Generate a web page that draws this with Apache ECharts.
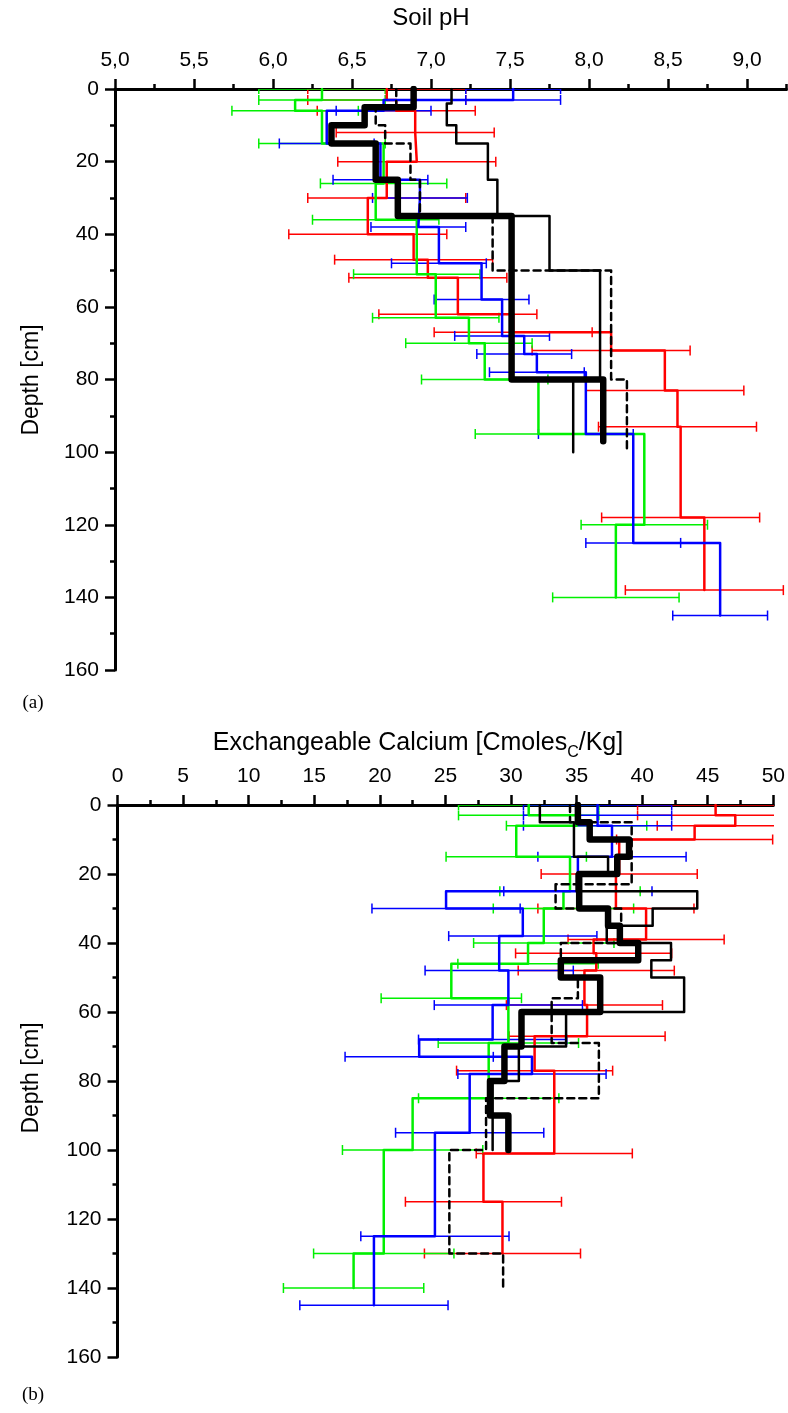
<!DOCTYPE html>
<html><head><meta charset="utf-8">
<script src="https://cdn.jsdelivr.net/npm/echarts@6/dist/echarts.min.js"></script>
<style>html,body{margin:0;padding:0;background:#fff}#c{width:788px;height:1413px}</style>
</head><body><div id="c"></div>
<script>
// ===== (a) Soil pH profiles: layer boundaries [cm] and layer values =====
const phThickDepth = [0,5,10,15,25,35,80,97];
const phThick      = [6.89,6.58,6.37,6.65,6.79,7.51,8.09];
const phThinDepth  = [0,4,10,15,25,35,50,80,100];
const phThin       = [7.13,7.10,7.16,7.36,7.42,7.75,8.07,7.90];
const phDashDepth  = [0,5,10,15,25,35,50,80,100];
const phDash       = [6.78,6.65,6.71,6.87,6.93,7.39,8.14,8.24];
const phRedDepth   = [0,3,6,12,20,30,40,47,52,62,67,72,83,93,118,138];
const phRed        = [6.72,6.78,6.90,6.91,6.72,6.60,6.89,6.98,7.17,7.52,8.14,8.48,8.56,8.58,8.73];
const phGreenDepth = [0,3,6,15,26,36,51,63,70,80,95,120,140];
const phGreen      = [6.31,6.14,6.31,6.70,6.65,6.91,7.03,7.24,7.34,7.68,8.35,8.17];
const phBlueDepth  = [0,3,6,15,25,30,38,48,58,68,73,78,95,125,145];
const phBlue       = [7.52,6.70,6.34,6.68,6.93,6.92,7.05,7.32,7.45,7.59,7.67,7.98,8.28,8.83];
const phRedErr = 0.5, phGreenErr = 0.4, phBlueErr = 0.3;
const phTicks = [5,5.5,6,6.5,7,7.5,8,8.5,9];

// ===== (b) Exchangeable calcium profiles =====
const caThickDepth = [0,5,10,15,20,30,35,40,45,50,60,70,80,90,100];
const caThick      = [35.1,36.0,39.0,38.1,35.2,37.4,38.3,39.7,33.8,36.8,30.8,29.5,28.4,29.8];
const caThinDepth  = [0,5,15,20,25,30,35,40,45,50,60,70,80,100];
const caThin       = [32.2,34.8,37.4,35.0,44.2,40.8,37.3,42.2,40.7,43.2,34.2,30.6,28.6];
const caDashDepth  = [0,5,23,30,40,50,56,69,85,100,130,140];
const caDash       = [34.5,39.2,33.4,38.4,33.8,35.1,33.1,36.7,28.1,25.3,29.4];
const caRedDepth   = [0,3,6,10,20,30,39,43,48,58,67,77,101,115,130];
const caRed        = [45.6,47.1,44.0,38.25,38.0,40.3,36.3,36.5,35.6,35.8,31.8,33.3,27.9,29.35];
const caGreenDepth = [0,3,6,15,25,30,40,46,56,69,85,100,130,140];
const caGreen      = [31.35,35.0,30.4,34.5,34.0,32.5,31.3,25.45,29.8,28.3,22.5,20.3,18.0];
const caBlueDepth  = [0,3,6,15,25,30,38,48,58,68,73,78,95,125,145];
const caBlue       = [36.6,36.6,37.7,35.1,25.05,30.9,29.1,29.8,28.6,23.0,31.6,26.85,24.2,19.55];
const caRedErr = 5.95, caGreenErr = 5.35, caBlueErr = 5.65;

const FONT = '"Liberation Sans", Arial, Helvetica, sans-serif';
const RED = '#ff0000', GREEN = '#00f000', BLUE = '#0000ff', BLACK = '#000000';

function stepPoints(depths, vals) {
  const p = [];
  for (let i = 0; i < vals.length; i++) { p.push([vals[i], depths[i]]); p.push([vals[i], depths[i + 1]]); }
  return p;
}
function errRows(depths, vals, half) {
  const r = [];
  for (let k = 0; k < depths.length; k++) { const v = vals[Math.max(0, k - 1)]; r.push([v - half, v + half, depths[k]]); }
  return r;
}
function mkErr(color) {
  return function (params, api) {
    const a = api.coord([api.value(0), api.value(2)]);
    const b = api.coord([api.value(1), api.value(2)]);
    const c = 5, st = { stroke: color, lineWidth: 1.5 };
    return { type: 'group', children: [
      { type: 'line', shape: { x1: a[0], y1: a[1], x2: b[0], y2: b[1] }, style: st },
      { type: 'line', shape: { x1: a[0], y1: a[1] - c, x2: a[0], y2: a[1] + c }, style: st },
      { type: 'line', shape: { x1: b[0], y1: b[1] - c, x2: b[0], y2: b[1] + c }, style: st }
    ] };
  };
}
function line(xi, yi, depths, vals, color, width, dashed) {
  return { type: 'line', xAxisIndex: xi, yAxisIndex: yi, data: stepPoints(depths, vals),
    symbol: 'none', showSymbol: false, silent: true, animation: false, clip: true,
    lineStyle: { color: color, width: width, type: dashed ? [7, 5] : 'solid', cap: 'round', join: 'round' } };
}
function err(xi, yi, depths, vals, half, color) {
  return { type: 'custom', xAxisIndex: xi, yAxisIndex: yi, data: errRows(depths, vals, half),
    encode: { x: [0, 1], y: 2 }, renderItem: mkErr(color), clip: true, silent: true, animation: false };
}

const axisLineStyle = { show: true, lineStyle: { color: BLACK, width: 3 } };
const labelStyle = { color: BLACK, fontSize: 21, fontFamily: FONT };
const centered = { textAlign: 'center', textVerticalAlign: 'middle', align: 'center', verticalAlign: 'middle', fill: BLACK };

const chart = echarts.init(document.getElementById('c'), null, { renderer: 'canvas' });
chart.setOption({
  animation: false,
  backgroundColor: '#fff',
  grid: [
    { left: 115, top: 89, width: 671.5, height: 581 },
    { left: 117.5, top: 805, width: 657, height: 552 },
    { left: 115, top: 89, width: 671.5, height: 581 }
  ],
  xAxis: [
    { gridIndex: 0, type: 'value', position: 'top', min: 5, max: 9.25, interval: 0.5,
      axisLine: axisLineStyle,
      axisTick: { show: true, length: 10, lineStyle: { color: BLACK, width: 2.5 }, customValues: phTicks },
      axisLabel: Object.assign({ margin: 18, customValues: phTicks, formatter: v => Number(v).toFixed(1).replace('.', ',') }, labelStyle),
      splitLine: { show: false } },
    { gridIndex: 1, type: 'value', position: 'top', min: 0, max: 50, interval: 5,
      axisLine: axisLineStyle,
      axisTick: { show: true, length: 10, lineStyle: { color: BLACK, width: 2.5 } },
      minorTick: { show: true, splitNumber: 2, length: 5, lineStyle: { color: BLACK, width: 2.5 } },
      axisLabel: Object.assign({ margin: 18 }, labelStyle),
      splitLine: { show: false } },
    { gridIndex: 2, type: 'value', position: 'top', min: 5, max: 9.25, interval: 0.25,
      axisLine: { show: false },
      axisTick: { show: true, length: 5, lineStyle: { color: BLACK, width: 2.5 } },
      axisLabel: { show: false }, splitLine: { show: false } }
  ],
  yAxis: [
    { gridIndex: 0, type: 'value', inverse: true, min: 0, max: 160, interval: 20,
      axisLine: axisLineStyle,
      axisTick: { show: true, length: 10, lineStyle: { color: BLACK, width: 2.5 } },
      minorTick: { show: true, splitNumber: 2, length: 5, lineStyle: { color: BLACK, width: 2.5 } },
      axisLabel: Object.assign({ margin: 16 }, labelStyle), splitLine: { show: false } },
    { gridIndex: 1, type: 'value', inverse: true, min: 0, max: 160, interval: 20,
      axisLine: axisLineStyle,
      axisTick: { show: true, length: 10, lineStyle: { color: BLACK, width: 2.5 } },
      minorTick: { show: true, splitNumber: 2, length: 5, lineStyle: { color: BLACK, width: 2.5 } },
      axisLabel: Object.assign({ margin: 16 }, labelStyle), splitLine: { show: false } },
    { gridIndex: 2, type: 'value', inverse: true, min: 0, max: 160, show: false }
  ],
  graphic: [
    { type: 'text', x: 431, y: 18, style: Object.assign({ text: 'Soil pH', fontSize: 24, fontFamily: FONT }, centered) },
    { type: 'text', x: 32, y: 380, rotation: Math.PI / 2, style: Object.assign({ text: 'Depth [cm]', fontSize: 23, fontFamily: FONT }, centered) },
    { type: 'text', x: 33, y: 703, style: Object.assign({ text: '(a)', fontSize: 19, fontFamily: '"Liberation Serif", "Times New Roman", serif' }, centered) },
    { type: 'text', x: 418, y: 743, style: Object.assign({
        text: '{a|Exchangeable Calcium [Cmoles}{s|C}{a|/Kg]}',
        rich: { a: { fontSize: 25, fontFamily: FONT, color: BLACK, lineHeight: 36, verticalAlign: 'middle' },
                s: { fontSize: 16, fontFamily: FONT, color: BLACK, lineHeight: 15, verticalAlign: 'bottom' } } }, centered) },
    { type: 'text', x: 32, y: 1078, rotation: Math.PI / 2, style: Object.assign({ text: 'Depth [cm]', fontSize: 23, fontFamily: FONT }, centered) },
    { type: 'text', x: 33, y: 1395, style: Object.assign({ text: '(b)', fontSize: 19, fontFamily: '"Liberation Serif", "Times New Roman", serif' }, centered) }
  ],
  series: [
    // (a)
    err(0, 0, phRedDepth, phRed, phRedErr, RED),
    err(0, 0, phGreenDepth, phGreen, phGreenErr, GREEN),
    err(0, 0, phBlueDepth, phBlue, phBlueErr, BLUE),
    line(0, 0, phRedDepth, phRed, RED, 2.5),
    line(0, 0, phGreenDepth, phGreen, GREEN, 2.5),
    line(0, 0, phBlueDepth, phBlue, BLUE, 2.5),
    line(0, 0, phDashDepth, phDash, BLACK, 2.5, true),
    line(0, 0, phThinDepth, phThin, BLACK, 2.5),
    line(0, 0, phThickDepth, phThick, BLACK, 6.5),
    // (b)
    err(1, 1, caRedDepth, caRed, caRedErr, RED),
    err(1, 1, caGreenDepth, caGreen, caGreenErr, GREEN),
    err(1, 1, caBlueDepth, caBlue, caBlueErr, BLUE),
    line(1, 1, caRedDepth, caRed, RED, 2.5),
    line(1, 1, caGreenDepth, caGreen, GREEN, 2.5),
    line(1, 1, caBlueDepth, caBlue, BLUE, 2.5),
    line(1, 1, caDashDepth, caDash, BLACK, 2.5, true),
    line(1, 1, caThinDepth, caThin, BLACK, 2.5),
    line(1, 1, caThickDepth, caThick, BLACK, 6.5)
  ]
});
</script></body></html>
